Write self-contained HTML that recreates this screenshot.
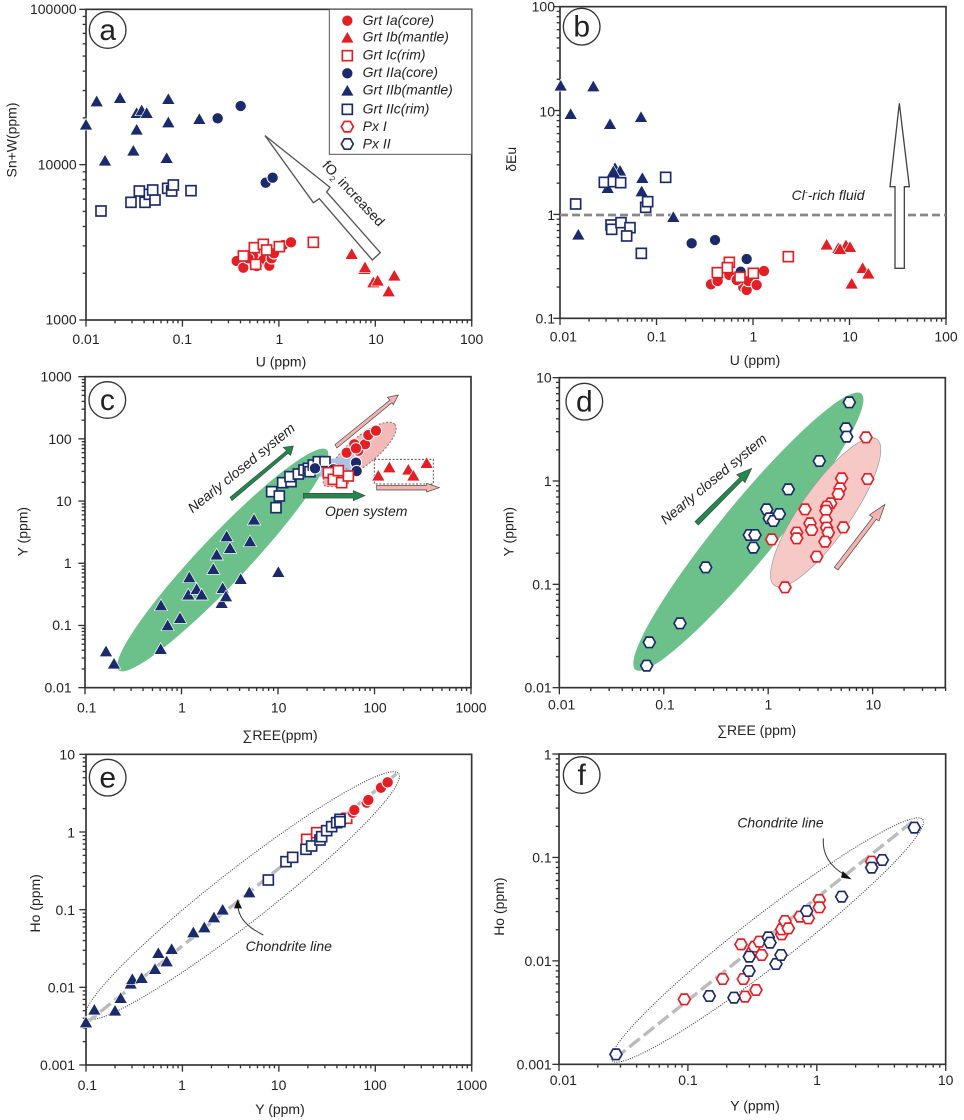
<!DOCTYPE html>
<html><head><meta charset="utf-8"><style>
html,body{margin:0;padding:0;background:#fff}
svg{display:block}
text{font-family:"Liberation Sans",Arial,sans-serif;fill:#222}
.tl{font-size:42px}
.it{font-style:italic}
.fr{fill:none;stroke:#333;stroke-width:5}
.tk line{stroke:#333;stroke-width:4}
</style></head><body>
<svg width="964" height="1120" viewBox="0 0 964 1120" xmlns="http://www.w3.org/2000/svg">
<defs>
<circle id="rc" r="17" fill="#e31e24" stroke="#fff" stroke-width="3"/>
<circle id="bc" r="17" fill="#1b2a6b" stroke="#fff" stroke-width="3"/>
<polygon id="rt" points="0,-20 20,15 -20,15" fill="#e31e24" stroke="#fff" stroke-width="2"/>
<polygon id="bt" points="0,-20 20,15 -20,15" fill="#1b2a6b" stroke="#fff" stroke-width="2"/>
<rect id="rs" x="-15" y="-15" width="30" height="30" fill="#fff" stroke="#e31e24" stroke-width="5"/>
<rect id="bs" x="-15" y="-15" width="30" height="30" fill="#fff" stroke="#1b2a6b" stroke-width="5"/>
<polygon id="rh" points="18,0 9,15.6 -9,15.6 -18,0 -9,-15.6 9,-15.6" fill="#fff" stroke="#e31e24" stroke-width="5"/>
<polygon id="bh" points="18,0 9,15.6 -9,15.6 -18,0 -9,-15.6 9,-15.6" fill="#fff" stroke="#1b2a6b" stroke-width="5"/>
</defs>
<rect width="964" height="1120" fill="#fff"/>

<!-- Panel a -->
<g transform="translate(0,0) scale(0.33333)">
<g class="tk" id="tka"></g>
<rect class="fr" x="258" y="28" width="1157" height="932"/>
<text class="tl" x="230" y="42" text-anchor="end">100000</text>
<text class="tl" x="230" y="509" text-anchor="end">10000</text>
<text class="tl" x="230" y="974" text-anchor="end">1000</text>
<text class="tl" x="258" y="1032" text-anchor="middle">0.01</text>
<text class="tl" x="547" y="1032" text-anchor="middle">0.1</text>
<text class="tl" x="838" y="1032" text-anchor="middle">1</text>
<text class="tl" x="1128" y="1032" text-anchor="middle">10</text>
<text class="tl" x="1415" y="1032" text-anchor="middle">100</text>
<text class="tl" x="843" y="1100" text-anchor="middle">U (ppm)</text>
<text class="tl" transform="translate(50,420) rotate(-90)" text-anchor="middle">Sn+W(ppm)</text>
<circle cx="323" cy="90" r="55" fill="#fff" stroke="#333" stroke-width="4"/>
<text x="323" y="120" font-size="90" text-anchor="middle">a</text>
<polygon points="795,407 940,608 958,596 1117,780 1141,758 980,576 990,562" fill="#fff" stroke="#555" stroke-width="4"/>
<use href="#bt" x="258" y="375"/><use href="#bt" x="290" y="305"/><use href="#bt" x="360" y="295"/><use href="#bt" x="315" y="483"/><use href="#bt" x="400" y="453"/><use href="#bt" x="410" y="390"/><use href="#bt" x="410" y="340"/><use href="#bt" x="425" y="332"/><use href="#bt" x="440" y="340"/><use href="#bt" x="505" y="298"/><use href="#bt" x="505" y="368"/><use href="#bt" x="500" y="475"/><use href="#bt" x="598" y="358"/>
<use href="#bc" x="653" y="355"/><use href="#bc" x="722" y="318"/><use href="#bc" x="797" y="548"/><use href="#bc" x="818" y="533"/>
<use href="#bs" x="303" y="633"/><use href="#bs" x="393" y="607"/><use href="#bs" x="418" y="573"/><use href="#bs" x="435" y="607"/><use href="#bs" x="448" y="583"/><use href="#bs" x="465" y="600"/><use href="#bs" x="458" y="570"/><use href="#bs" x="503" y="565"/><use href="#bs" x="515" y="573"/><use href="#bs" x="520" y="555"/><use href="#bs" x="573" y="572"/>
<use href="#rc" x="710" y="783"/><use href="#rc" x="730" y="803"/><use href="#rc" x="760" y="770"/><use href="#rc" x="790" y="780"/><use href="#rc" x="808" y="797"/><use href="#rc" x="815" y="775"/><use href="#rc" x="822" y="760"/><use href="#rc" x="850" y="735"/><use href="#rc" x="873" y="727"/><use href="#rc" x="770" y="798"/><use href="#rc" x="745" y="775"/>
<use href="#rs" x="730" y="768"/><use href="#rs" x="763" y="743"/><use href="#rs" x="767" y="793"/><use href="#rs" x="790" y="733"/><use href="#rs" x="800" y="750"/><use href="#rs" x="838" y="740"/><use href="#rs" x="940" y="727"/>
<use href="#rt" x="1055" y="763"/><use href="#rt" x="1093" y="808"/><use href="#rt" x="1120" y="848"/><use href="#rt" x="1133" y="843"/><use href="#rt" x="1166" y="875"/><use href="#rt" x="1183" y="828"/><use href="#rt" x="1095" y="803"/>
<rect x="988" y="28" width="427" height="435" fill="#fff" stroke="#555" stroke-width="3"/>
<use href="#rc" x="1042" y="62"/><use href="#rt" x="1042" y="114"/><use href="#rs" x="1042" y="167"/><use href="#bc" x="1042" y="220"/><use href="#bt" x="1042" y="273"/><use href="#bs" x="1042" y="328"/><use href="#rh" x="1042" y="380"/><use href="#bh" x="1042" y="432"/>
<g class="tl it"><text x="1088" y="75">Grt Ia(core)</text><text x="1088" y="125">Grt Ib(mantle)</text><text x="1088" y="178">Grt Ic(rim)</text><text x="1088" y="231">Grt IIa(core)</text><text x="1088" y="283">Grt IIb(mantle)</text><text x="1088" y="340">Grt IIc(rim)</text><text x="1088" y="393">Px I</text><text x="1088" y="445">Px II</text></g>
<text class="tl" transform="translate(1050,590) rotate(47)" text-anchor="middle">fO<tspan font-size="24" dy="10">2</tspan><tspan dy="-10"> increased</tspan></text>
</g>

<!-- Panel b -->
<g transform="translate(480,0) scale(0.33333)">
<g class="tk" id="tkb"></g>
<rect class="fr" x="240" y="20" width="1158" height="935"/>
<text class="tl" x="225" y="35" text-anchor="end">100</text>
<text class="tl" x="225" y="350" text-anchor="end">10</text>
<text class="tl" x="225" y="660" text-anchor="end">1</text>
<text class="tl" x="225" y="970" text-anchor="end">0.1</text>
<text class="tl" x="250" y="1025" text-anchor="middle">0.01</text>
<text class="tl" x="530" y="1025" text-anchor="middle">0.1</text>
<text class="tl" x="820" y="1025" text-anchor="middle">1</text>
<text class="tl" x="1110" y="1025" text-anchor="middle">10</text>
<text class="tl" x="1398" y="1025" text-anchor="middle">100</text>
<text class="tl" x="825" y="1095" text-anchor="middle">U (ppm)</text>
<text class="tl" transform="translate(108,478) rotate(-90)" text-anchor="middle">δEu</text>
<circle cx="305" cy="80" r="55" fill="#fff" stroke="#333" stroke-width="4"/>
<text x="305" y="110" font-size="90" text-anchor="middle">b</text>
<line x1="240" y1="645" x2="1398" y2="645" stroke="#888" stroke-width="8" stroke-dasharray="24 12"/>
<text class="tl it" x="935" y="600">Cl<tspan font-size="26" dy="-16">-</tspan><tspan dy="16">-rich fluid</tspan></text>
<polygon points="1258,310 1288,560 1273,560 1273,805 1245,805 1245,560 1230,560" fill="#fff" stroke="#444" stroke-width="4"/>
<use href="#bt" x="242" y="258"/><use href="#bt" x="340" y="260"/><use href="#bt" x="272" y="343"/><use href="#bt" x="390" y="373"/><use href="#bt" x="483" y="352"/><use href="#bt" x="405" y="505"/><use href="#bt" x="420" y="513"/><use href="#bt" x="487" y="535"/><use href="#bt" x="485" y="575"/><use href="#bt" x="383" y="565"/><use href="#bt" x="295" y="705"/><use href="#bt" x="580" y="652"/><use href="#bt" x="400" y="515"/>
<use href="#bs" x="287" y="612"/><use href="#bs" x="373" y="547"/><use href="#bs" x="400" y="545"/><use href="#bs" x="422" y="548"/><use href="#bs" x="557" y="532"/><use href="#bs" x="497" y="622"/><use href="#bs" x="503" y="605"/><use href="#bs" x="393" y="675"/><use href="#bs" x="395" y="688"/><use href="#bs" x="423" y="668"/><use href="#bs" x="450" y="683"/><use href="#bs" x="440" y="708"/><use href="#bs" x="484" y="760"/>
<use href="#bc" x="635" y="730"/><use href="#bc" x="705" y="720"/><use href="#bc" x="800" y="777"/><use href="#bc" x="782" y="815"/>
<use href="#rc" x="693" y="853"/><use href="#rc" x="713" y="843"/><use href="#rc" x="748" y="825"/><use href="#rc" x="790" y="862"/><use href="#rc" x="800" y="870"/><use href="#rc" x="805" y="843"/><use href="#rc" x="830" y="855"/><use href="#rc" x="852" y="813"/><use href="#rc" x="770" y="840"/>
<use href="#rs" x="712" y="818"/><use href="#rs" x="748" y="787"/><use href="#rs" x="742" y="803"/><use href="#rs" x="780" y="832"/><use href="#rs" x="820" y="820"/><use href="#rs" x="925" y="770"/>
<use href="#rt" x="1040" y="735"/><use href="#rt" x="1075" y="745"/><use href="#rt" x="1098" y="737"/><use href="#rt" x="1110" y="742"/><use href="#rt" x="1115" y="852"/><use href="#rt" x="1148" y="805"/><use href="#rt" x="1165" y="822"/><use href="#rt" x="1080" y="748"/>
</g>

<!-- Panel c -->
<g transform="translate(0,340) scale(0.33333)">
<g class="tk" id="tkc"></g>
<ellipse cx="668" cy="660" rx="455" ry="72" transform="rotate(-46.6 668 660)" fill="#6cc08a"/>
<ellipse cx="1090" cy="330" rx="122" ry="42" transform="rotate(-39 1090 330)" fill="#f4b9b7" stroke="#777" stroke-width="3" stroke-dasharray="6 5"/>
<polygon points="950,360 1060,350 1075,405 960,410" fill="#a9c4e4"/>
<rect x="970" y="385" width="75" height="55" rx="12" fill="#f4b9b7" stroke="#777" stroke-width="3" stroke-dasharray="6 5"/>
<rect x="1123" y="358" width="177" height="74" fill="none" stroke="#555" stroke-width="3" stroke-dasharray="6 5"/>
<rect class="fr" x="255" y="110" width="1158" height="933"/>
<text class="tl" x="215" y="125" text-anchor="end">1000</text>
<text class="tl" x="215" y="312" text-anchor="end">100</text>
<text class="tl" x="215" y="498" text-anchor="end">10</text>
<text class="tl" x="215" y="684" text-anchor="end">1</text>
<text class="tl" x="215" y="870" text-anchor="end">0.1</text>
<text class="tl" x="215" y="1057" text-anchor="end">0.01</text>
<text class="tl" x="260" y="1118" text-anchor="middle">0.1</text>
<text class="tl" x="546" y="1118" text-anchor="middle">1</text>
<text class="tl" x="836" y="1118" text-anchor="middle">10</text>
<text class="tl" x="1125" y="1118" text-anchor="middle">100</text>
<text class="tl" x="1413" y="1118" text-anchor="middle">1000</text>
<text class="tl" x="840" y="1200" text-anchor="middle">∑REE(ppm)</text>
<text class="tl" transform="translate(82,575) rotate(-90)" text-anchor="middle">Y (ppm)</text>
<circle cx="322" cy="180" r="55" fill="#fff" stroke="#333" stroke-width="4"/>
<text x="322" y="210" font-size="90" text-anchor="middle">c</text>
<g stroke="#444" stroke-width="2">
<polygon points="690,472 860,332 850,322 880,318 872,346 864,340 696,482" fill="#1f8a4c"/>
<polygon points="1005,314 1170,180 1162,172 1195,165 1180,194 1176,188 1011,324" fill="#f3b3b0"/>
<polygon points="910,460 1060,460 1060,452 1095,467 1060,482 1060,474 910,474" fill="#1f8a4c"/>
<polygon points="1130,436 1280,436 1280,430 1318,443 1280,456 1280,450 1130,450" fill="#f3b3b0"/>
</g>
<text class="tl it" transform="translate(733,395) rotate(-39)" text-anchor="middle">Nearly closed system</text>
<text class="tl it" x="975" y="528">Open system</text>
<use href="#bt" x="318" y="935"/><use href="#bt" x="342" y="972"/><use href="#bt" x="483" y="797"/><use href="#bt" x="503" y="857"/><use href="#bt" x="540" y="835"/><use href="#bt" x="482" y="928"/><use href="#bt" x="568" y="713"/><use href="#bt" x="565" y="765"/><use href="#bt" x="590" y="748"/><use href="#bt" x="605" y="765"/><use href="#bt" x="650" y="645"/><use href="#bt" x="640" y="688"/><use href="#bt" x="668" y="745"/><use href="#bt" x="665" y="790"/><use href="#bt" x="678" y="770"/><use href="#bt" x="680" y="590"/><use href="#bt" x="690" y="625"/><use href="#bt" x="722" y="718"/><use href="#bt" x="750" y="605"/><use href="#bt" x="762" y="540"/><use href="#bt" x="835" y="697"/>
<use href="#bs" x="815" y="455"/><use href="#bs" x="838" y="468"/><use href="#bs" x="828" y="503"/><use href="#bs" x="848" y="428"/><use href="#bs" x="873" y="425"/><use href="#bs" x="870" y="410"/><use href="#bs" x="895" y="402"/><use href="#bs" x="912" y="390"/><use href="#bs" x="925" y="385"/><use href="#bs" x="930" y="395"/><use href="#bs" x="940" y="375"/><use href="#bs" x="955" y="365"/><use href="#bs" x="975" y="365"/>
<use href="#bc" x="1000" y="388"/><use href="#bc" x="1068" y="368"/><use href="#bc" x="1070" y="393"/><use href="#bc" x="945" y="385"/>
<use href="#rs" x="985" y="398"/><use href="#rs" x="1000" y="418"/><use href="#rs" x="1025" y="428"/><use href="#rs" x="1045" y="408"/><use href="#rs" x="1015" y="392"/>
<use href="#rc" x="1040" y="338"/><use href="#rc" x="1063" y="313"/><use href="#rc" x="1075" y="332"/><use href="#rc" x="1095" y="313"/><use href="#rc" x="1105" y="285"/><use href="#rc" x="1128" y="272"/><use href="#rc" x="1068" y="325"/>
<use href="#rt" x="1135" y="408"/><use href="#rt" x="1168" y="383"/><use href="#rt" x="1225" y="390"/><use href="#rt" x="1240" y="408"/><use href="#rt" x="1280" y="370"/>
</g>

<!-- Panel d -->
<g transform="translate(480,340) scale(0.33333)">
<g class="tk" id="tkd"></g>
<ellipse cx="805" cy="575" rx="535" ry="85" transform="rotate(-50.7 805 575)" fill="#6cc08a"/>
<ellipse cx="1037" cy="517" rx="268" ry="75" transform="rotate(-55 1037 517)" fill="#f6c8c6" stroke="#999" stroke-width="2"/>
<rect class="fr" x="238" y="113" width="1158" height="930"/>
<text class="tl" x="215" y="128" text-anchor="end">10</text>
<text class="tl" x="215" y="438" text-anchor="end">1</text>
<text class="tl" x="215" y="748" text-anchor="end">0.1</text>
<text class="tl" x="215" y="1058" text-anchor="end">0.01</text>
<text class="tl" x="245" y="1108" text-anchor="middle">0.01</text>
<text class="tl" x="555" y="1108" text-anchor="middle">0.1</text>
<text class="tl" x="865" y="1108" text-anchor="middle">1</text>
<text class="tl" x="1180" y="1108" text-anchor="middle">10</text>
<text class="tl" x="830" y="1185" text-anchor="middle">∑REE (ppm)</text>
<text class="tl" transform="translate(100,575) rotate(-90)" text-anchor="middle">Y (ppm)</text>
<circle cx="313" cy="185" r="55" fill="#fff" stroke="#333" stroke-width="4"/>
<text x="313" y="215" font-size="90" text-anchor="middle">d</text>
<g stroke="#444" stroke-width="2">
<polygon points="645,545 780,412 770,404 815,385 795,428 788,420 655,555" fill="#1f8a4c"/>
<polygon points="1063,682 1178,532 1168,525 1215,493 1197,543 1189,538 1074,690" fill="#f3b3b0"/>
</g>
<text class="tl it" transform="translate(710,428) rotate(-39.6)" text-anchor="middle">Nearly closed system</text>
<use href="#bh" x="1108" y="187"/><use href="#bh" x="1098" y="265"/><use href="#bh" x="1100" y="290"/><use href="#bh" x="1018" y="363"/><use href="#bh" x="925" y="448"/><use href="#bh" x="860" y="508"/><use href="#bh" x="868" y="535"/><use href="#bh" x="880" y="543"/><use href="#bh" x="898" y="522"/><use href="#bh" x="808" y="585"/><use href="#bh" x="825" y="585"/><use href="#bh" x="820" y="623"/><use href="#bh" x="677" y="682"/><use href="#bh" x="600" y="850"/><use href="#bh" x="508" y="907"/><use href="#bh" x="500" y="977"/>
<use href="#rh" x="1158" y="292"/><use href="#rh" x="1163" y="417"/><use href="#rh" x="1085" y="415"/><use href="#rh" x="1080" y="445"/><use href="#rh" x="1075" y="462"/><use href="#rh" x="1052" y="490"/><use href="#rh" x="1040" y="500"/><use href="#rh" x="1038" y="512"/><use href="#rh" x="1038" y="540"/><use href="#rh" x="1040" y="563"/><use href="#rh" x="1045" y="578"/><use href="#rh" x="1035" y="605"/><use href="#rh" x="1010" y="650"/><use href="#rh" x="975" y="508"/><use href="#rh" x="990" y="550"/><use href="#rh" x="995" y="570"/><use href="#rh" x="950" y="578"/><use href="#rh" x="950" y="595"/><use href="#rh" x="875" y="598"/><use href="#rh" x="1090" y="562"/><use href="#rh" x="915" y="742"/>
</g>

<!-- Panel e -->
<g transform="translate(0,740) scale(0.33333)">
<g class="tk" id="tke"></g>
<rect class="fr" x="258" y="43" width="1157" height="932"/>
<ellipse cx="727" cy="467" rx="595" ry="80" transform="rotate(-38 727 467)" fill="none" stroke="#333" stroke-width="3" stroke-dasharray="3 4"/>
<line x1="258" y1="850" x2="1195" y2="97" stroke="#bbb" stroke-width="10" stroke-dasharray="40 15"/>
<text class="tl" x="225" y="58" text-anchor="end">10</text>
<text class="tl" x="225" y="292" text-anchor="end">1</text>
<text class="tl" x="225" y="525" text-anchor="end">0.1</text>
<text class="tl" x="225" y="757" text-anchor="end">0.01</text>
<text class="tl" x="225" y="990" text-anchor="end">0.001</text>
<text class="tl" x="262" y="1050" text-anchor="middle">0.1</text>
<text class="tl" x="546" y="1050" text-anchor="middle">1</text>
<text class="tl" x="836" y="1050" text-anchor="middle">10</text>
<text class="tl" x="1125" y="1050" text-anchor="middle">100</text>
<text class="tl" x="1415" y="1050" text-anchor="middle">1000</text>
<text class="tl" x="840" y="1122" text-anchor="middle">Y (ppm)</text>
<text class="tl" transform="translate(120,490) rotate(-90)" text-anchor="middle">Ho (ppm)</text>
<circle cx="323" cy="113" r="55" fill="#fff" stroke="#333" stroke-width="4"/>
<text x="323" y="143" font-size="90" text-anchor="middle">e</text>
<path d="M790,585 Q718,550 714,500" fill="none" stroke="#333" stroke-width="3"/>
<polygon points="713,478 702,505 726,505" fill="#111"/>
<text class="tl it" x="737" y="633">Chondrite line</text>
<use href="#bt" x="258" y="848"/><use href="#bt" x="283" y="810"/><use href="#bt" x="345" y="813"/><use href="#bt" x="362" y="775"/><use href="#bt" x="392" y="732"/><use href="#bt" x="397" y="718"/><use href="#bt" x="425" y="715"/><use href="#bt" x="465" y="688"/><use href="#bt" x="475" y="640"/><use href="#bt" x="500" y="665"/><use href="#bt" x="515" y="628"/><use href="#bt" x="580" y="578"/><use href="#bt" x="613" y="563"/><use href="#bt" x="642" y="533"/><use href="#bt" x="668" y="510"/><use href="#bt" x="748" y="458"/>
<use href="#rs" x="920" y="298"/><use href="#rs" x="950" y="278"/><use href="#rs" x="1040" y="235"/>
<use href="#bs" x="805" y="420"/><use href="#bs" x="858" y="365"/><use href="#bs" x="878" y="352"/><use href="#bs" x="918" y="328"/><use href="#bs" x="935" y="318"/><use href="#bs" x="960" y="300"/><use href="#bs" x="965" y="290"/><use href="#bs" x="980" y="272"/><use href="#bs" x="995" y="260"/><use href="#bs" x="1010" y="248"/><use href="#bs" x="1020" y="238"/><use href="#bs" x="1020" y="245"/>
<use href="#rc" x="1058" y="218"/><use href="#rc" x="1063" y="210"/><use href="#rc" x="1100" y="188"/><use href="#rc" x="1105" y="180"/><use href="#rc" x="1143" y="143"/><use href="#rc" x="1163" y="127"/>
</g>

<!-- Panel f -->
<g transform="translate(480,740) scale(0.33333)">
<g class="tk" id="tkf"></g>
<rect class="fr" x="237" y="42" width="1160" height="931"/>
<ellipse cx="862" cy="600" rx="590" ry="75" transform="rotate(-37.8 862 600)" fill="none" stroke="#333" stroke-width="3" stroke-dasharray="3 4"/>
<line x1="405" y1="955" x2="1310" y2="235" stroke="#bbb" stroke-width="10" stroke-dasharray="40 15"/>
<text class="tl" x="215" y="58" text-anchor="end">1</text>
<text class="tl" x="215" y="368" text-anchor="end">0.1</text>
<text class="tl" x="215" y="678" text-anchor="end">0.01</text>
<text class="tl" x="215" y="988" text-anchor="end">0.001</text>
<text class="tl" x="250" y="1035" text-anchor="middle">0.01</text>
<text class="tl" x="624" y="1035" text-anchor="middle">0.1</text>
<text class="tl" x="1011" y="1035" text-anchor="middle">1</text>
<text class="tl" x="1397" y="1035" text-anchor="middle">10</text>
<text class="tl" x="825" y="1112" text-anchor="middle">Y (ppm)</text>
<text class="tl" transform="translate(72,500) rotate(-90)" text-anchor="middle">Ho (ppm)</text>
<circle cx="305" cy="105" r="55" fill="#fff" stroke="#333" stroke-width="4"/>
<text x="305" y="135" font-size="90" text-anchor="middle">f</text>
<text class="tl it" x="772" y="262">Chondrite line</text>
<path d="M1030,295 Q1025,365 1095,405" fill="none" stroke="#333" stroke-width="3"/>
<polygon points="1115,418 1088,393 1083,413" fill="#111"/>
<use href="#rh" x="613" y="778"/><use href="#rh" x="728" y="717"/><use href="#rh" x="790" y="717"/><use href="#rh" x="795" y="770"/><use href="#rh" x="828" y="750"/><use href="#rh" x="783" y="613"/><use href="#rh" x="813" y="640"/><use href="#rh" x="823" y="620"/><use href="#rh" x="838" y="605"/><use href="#rh" x="845" y="645"/><use href="#rh" x="905" y="583"/><use href="#rh" x="905" y="568"/><use href="#rh" x="915" y="543"/><use href="#rh" x="925" y="565"/><use href="#rh" x="960" y="530"/><use href="#rh" x="985" y="535"/><use href="#rh" x="1018" y="480"/><use href="#rh" x="1018" y="502"/><use href="#rh" x="1175" y="365"/>
<use href="#bh" x="408" y="943"/><use href="#bh" x="688" y="768"/><use href="#bh" x="762" y="773"/><use href="#bh" x="807" y="693"/><use href="#bh" x="808" y="650"/><use href="#bh" x="865" y="592"/><use href="#bh" x="870" y="608"/><use href="#bh" x="888" y="672"/><use href="#bh" x="903" y="645"/><use href="#bh" x="980" y="513"/><use href="#bh" x="1085" y="470"/><use href="#bh" x="1175" y="383"/><use href="#bh" x="1207" y="360"/><use href="#bh" x="1303" y="263"/>
</g>
</svg>
<script>
function ax(id,L,R,T,B,xd,yd){
  var s='';
  for(var k=0;k<8;k++){for(var m=1;m<10;m++){var x=L+(k+Math.log10(m))*xd;if(x>R+1)break;var l=(m==1)?20:10;s+='<line x1="'+x+'" y1="'+B+'" x2="'+x+'" y2="'+(B+l)+'"/>';}}
  for(var k=0;k<8;k++){for(var m=1;m<10;m++){var y=B-(k+Math.log10(m))*yd;if(y<T-1)break;var l=(m==1)?20:10;s+='<line x1="'+L+'" y1="'+y+'" x2="'+(L-l)+'" y2="'+y+'"/>';}}
  document.getElementById(id).innerHTML=s;
}
ax('tka',258,1415,28,960,289.3,466);
ax('tkb',240,1398,20,955,289.5,311.7);
ax('tkc',255,1413,110,1043,289.5,186.6);
ax('tkd',238,1396,113,1043,313.3,310);
ax('tke',258,1415,43,975,289.3,233);
ax('tkf',237,1397,42,973,386.7,310.3);
</script>
</body></html>
